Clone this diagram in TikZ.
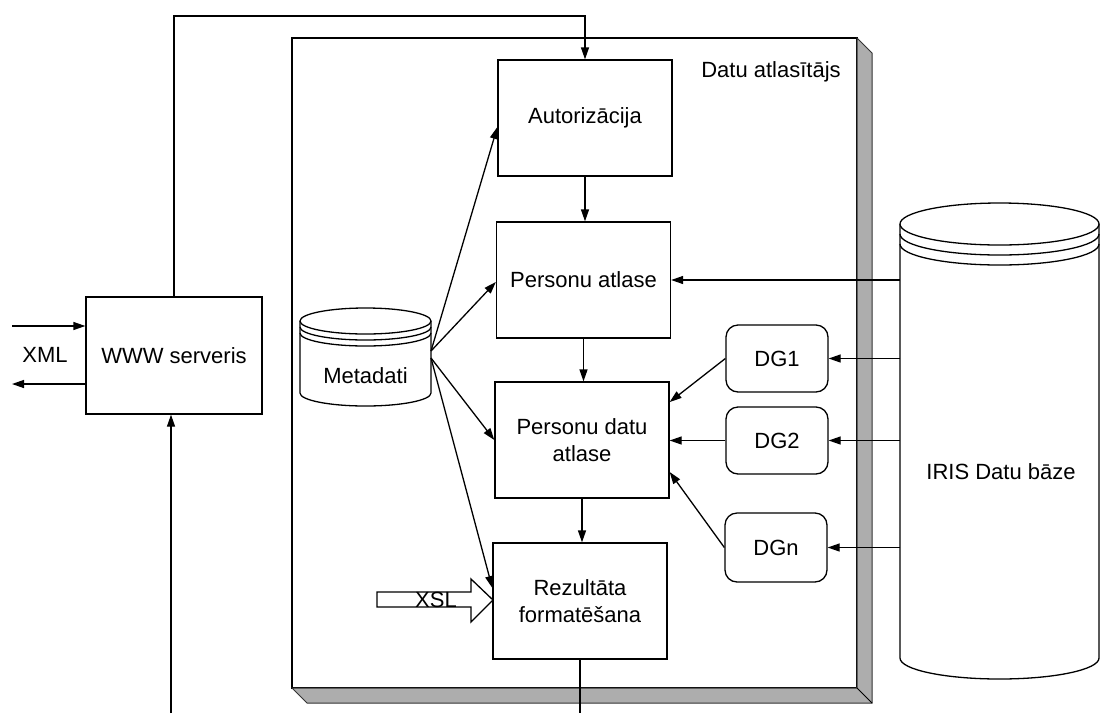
\documentclass[tikz,border=0pt]{standalone}
\usepackage{fontspec}
\setmainfont{Liberation Sans}
\usetikzlibrary{arrows.meta,calc}

% database drum: #1 left, #2 right, #3 centre y of top ellipse,
% #4 y where the sides end, #5 vertical radius, #6 gap between rings
\newcommand{\drum}[6]{%
  \pgfmathsetmacro{\drumrx}{(#2-#1)/4}%
  \pgfmathsetmacro{\drumry}{#5/2}%
  \pgfmathsetmacro{\drumcx}{(#1+#2)/2}%
  \fill[white] (#1,#3) -- (#1,#4) arc[start angle=180,end angle=360,x radius=\drumrx pt,y radius=\drumry pt] -- (#2,#3) -- cycle;
  \draw (#1,#3) -- (#1,#4) arc[start angle=180,end angle=360,x radius=\drumrx pt,y radius=\drumry pt] -- (#2,#3);
  \draw[fill=white] (\drumcx,#3) ellipse[x radius=\drumrx pt,y radius=\drumry pt];
  \draw (#1,#3+#6) arc[start angle=180,end angle=360,x radius=\drumrx pt,y radius=\drumry pt];
  \draw (#1,#3+2*#6) arc[start angle=180,end angle=360,x radius=\drumrx pt,y radius=\drumry pt];
}

\begin{document}
\begin{tikzpicture}[x=0.5pt,y=-0.5pt,
  font=\fontsize{11}{13.5}\selectfont,
  line width=0.65pt,
  conn/.style={-{Triangle[length=6pt,width=4pt]}},
  procbox/.style={draw, fill=white, minimum width=87pt, minimum height=58pt, align=center, inner sep=0pt},
  dgbox/.style={draw, fill=white, rounded corners=6pt, minimum width=51pt, minimum height=33.5pt, inner sep=0pt},
  bevel/.style={fill=black!32, draw=black!80, line width=0.5pt},
  lbl/.style={inner sep=0pt}
]
\useasboundingbox (0,0) rectangle (1103,713);

% the "Datu atlasitajs" frame with its bevelled edge
\draw[fill=white] (292,38) rectangle (857,688);
\draw[bevel] (857,38) -- (872,53) -- (872,703) -- (307,703) -- (292,688) -- (857,688) -- cycle;
\draw[line width=0.5pt] (857,688) -- (872,703);
\node[lbl] (title) at (771,72) {Datu atlasītājs};

% databases
\drum{300}{431}{321}{393}{13}{6}
\drum{900}{1099}{224}{658}{21}{10}
\node[lbl] (meta) at (365.5,376) {Metadati};
\node[lbl] (iris) at (1001,472) {IRIS Datu bāze};

% XSL input block arrow
\draw[fill=white] (377,592) -- (471,592) -- (471,579) -- (493,600) -- (471,622) -- (471,607) -- (377,607) -- cycle;
\node[lbl] (xsl) at (436,600) {XSL};

% processing steps
\node[procbox] (auth) at (585,118) {Autorizācija};
\node[procbox] (pa) at (583.5,280) {Personu atlase};
\node[procbox] (pda) at (582,440) {Personu datu\\atlase};
\node[procbox] (rez) at (580,601) {Rezultāta\\formatēšana};
\node[procbox, minimum width=88pt, minimum height=58.5pt] (www) at (174,355.5) {WWW serveris};
\node[lbl] (xml) at (45,355) {XML};

\node[dgbox] (dg1) at (777,358.5) {DG1};
\node[dgbox] (dg2) at (777,440.5) {DG2};
\node[dgbox, minimum height=34.5pt] (dgn) at (776,547.5) {DGn};

% free ends
\coordinate (wiretop) at (0,16);
\coordinate (xmlin) at (12,326);
\coordinate (xmlout) at (12,384);
\coordinate (wwwfeed) at (171,713);
\coordinate (pagebottom) at (0,713);
\coordinate (metaup) at (431,351);
\coordinate (metadn) at (431,358);
\coordinate (irisedge) at (900,0);

% web server links
\draw[conn] (www.north) -- (www.north |- wiretop) -- (auth.north |- wiretop) -- (auth.north);
\draw[conn] (xmlin) -- (xmlin -| www.west);
\draw[conn] (xmlout -| www.west) -- (xmlout);
\draw[conn] (wwwfeed) -- (wwwfeed |- www.south);

% main flow
\draw[conn] (auth.south) -- (auth.south |- pa.north);
\draw[conn] (pa.south) -- (pa.south |- pda.north);
\draw[conn] (pda.south) -- (pda.south |- rez.north);
\draw (rez.south) -- (rez.south |- pagebottom);

% metadata
\draw[conn] (metaup) -- ([yshift=-4.5pt]auth.west);
\draw[conn] (metaup) -- ([yshift=-1pt]pa.west);
\draw[conn] (metadn) -- (pda.west);
\draw[conn] (metadn) -- ([yshift=6.5pt]rez.west);

% IRIS database feeds
\draw[conn] (irisedge |- pa.east) -- (pa.east);
\draw[conn] (irisedge |- dg1.east) -- (dg1.east);
\draw[conn] (irisedge |- dg2.east) -- (dg2.east);
\draw[conn] (irisedge |- dgn.east) -- (dgn.east);

% data groups
\draw[conn] (dg1.west) -- ([yshift=19pt]pda.east);
\draw[conn] (dg2.west) -- (dg2.west -| pda.east);
\draw[conn] (dgn.west) -- ([yshift=-16pt]pda.east);
\end{tikzpicture}
\end{document}
